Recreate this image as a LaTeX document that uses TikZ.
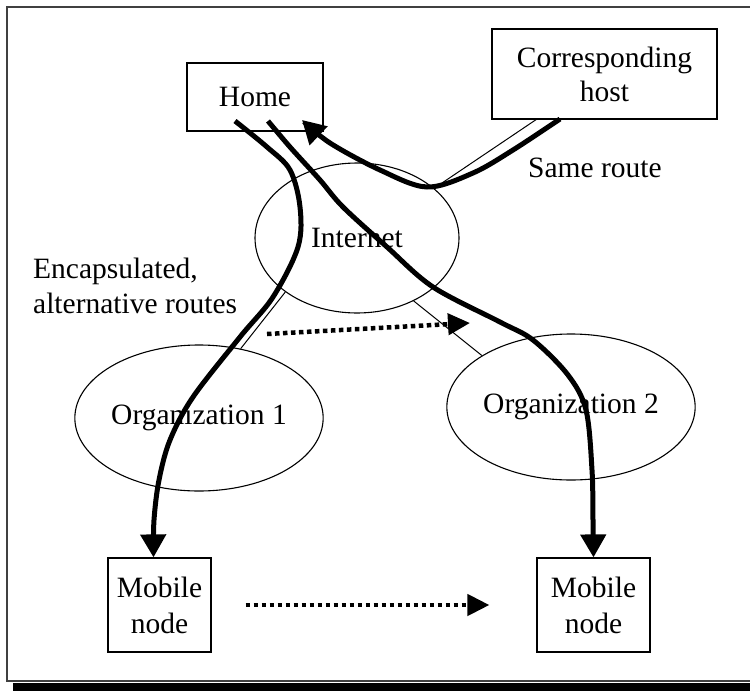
\documentclass[tikz,border=0pt]{standalone}
\usepackage{fontspec}
\setmainfont{Liberation Serif}
\usetikzlibrary{arrows.meta,shapes.geometric}
\begin{document}
\begin{tikzpicture}[x=1pt,y=-1pt,
  box/.style={draw,line width=1.2pt,rectangle,inner sep=0pt,align=center,font=\fontsize{29.5}{34}\selectfont},
  cloud/.style={draw,line width=1.1pt,ellipse,inner sep=0pt,font=\fontsize{29.5}{34}\selectfont},
  lbl/.style={inner sep=0pt,align=left,font=\fontsize{29.5}{35}\selectfont},
  route/.style={line width=5pt,-{Triangle[length=23pt,width=25pt]}},
  move/.style={line width=4.5pt,dash pattern=on 4.5pt off 3.5pt,-{Triangle[length=22pt,width=21pt]}},
  link/.style={line width=1pt},
  frameline/.style={line width=2pt,draw=black!75}]
\useasboundingbox (0,0) rectangle (750,691);
% frame
\draw[frameline] (750,7) -- (7,7) -- (7,681) -- (750,681);
\fill[black] (13,682.5) rectangle (750,691);
% nodes
\node[box,minimum width=136pt,minimum height=68pt] (home) at (255,97) {Home};
\node[box,minimum width=225pt,minimum height=90pt] (host) at (604.5,74) {Corresponding\\host};
\node[cloud,minimum width=204pt,minimum height=150pt] (inet) at (357,238) {Internet};
\node[cloud,minimum width=248pt,minimum height=146pt] (org1) at (199,418) {Organization 1};
\node[cloud,minimum width=248pt,minimum height=146pt] (org2) at (571,407) {Organization 2};
\node[box,minimum width=103pt,minimum height=94pt,font=\fontsize{29.5}{36}\selectfont] (mob1) at (159.5,605) {Mobile\\node};
\node[box,minimum width=113pt,minimum height=94pt,font=\fontsize{29.5}{36}\selectfont] (mob2) at (593.5,605) {Mobile\\node};
\node[lbl,anchor=base west] (same) at (528,177) {Same route};
\node[lbl,anchor=west] (encap) at (33,286) {Encapsulated,\\alternative routes};
% thin links
\coordinate (hl) at (537,119);
\coordinate (il) at (442,183);
\draw[link] (hl) -- (il);
\draw[link] (inet.217) -- (org1.59);
\draw[link] (inet.312) -- (org2.150);
% dotted moves
\coordinate (d1s) at (267,334);
\coordinate (d1e) at (470,323);
\draw[move] (d1s) -- (d1e);
\draw[move] ([xshift=34pt]mob1.east) -- ([xshift=-47pt]mob2.west);
% thick routes
\coordinate (h1) at (235,121);
\coordinate (h2) at (268,121);
\coordinate (hs) at (560,119);
\coordinate (ht) at (302,120);
\draw[route] plot[smooth,tension=0.55] coordinates {(h1) (267,147) (290,170) (300,207) (298,247) (273,297) (240,337) (193,397) (170,440) (159,480) (154,520) ([xshift=-6pt]mob1.north)};
\draw[route] plot[smooth,tension=0.55] coordinates {(h2) (290,147) (320,180) (343,207) (387,247) (433,287) (500,322) (533,340) (568,375) (586,410) (592,470) (593,520) (mob2.north)};
\draw[route] plot[smooth,tension=0.55] coordinates {(hs) (513,150) (473,173) (427,187) (380,170) (330,143) (ht)};
\end{tikzpicture}
\end{document}
